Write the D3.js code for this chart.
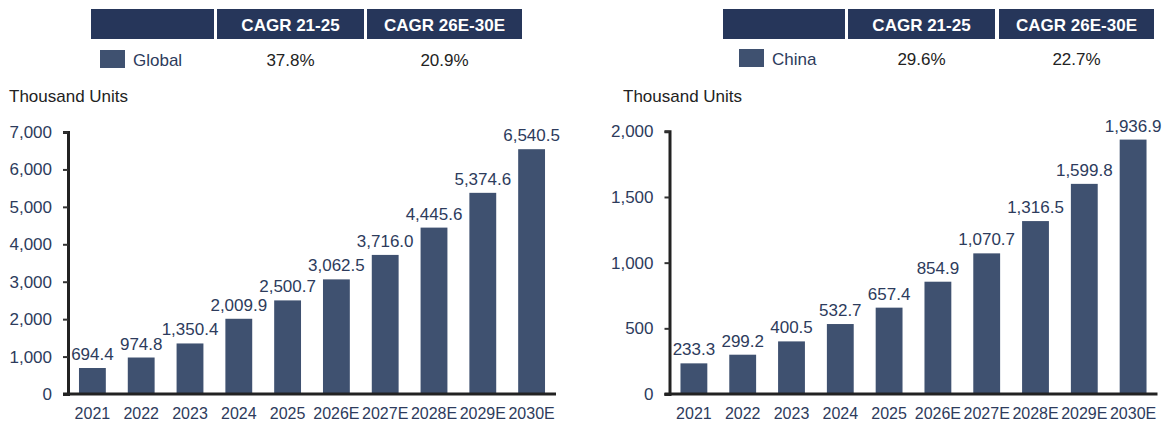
<!DOCTYPE html>
<html>
<head>
  <meta charset="utf-8">
  <title>Global and China units</title>
  <script src="https://cdn.jsdelivr.net/npm/d3@7"></script>
  <style>
    body { margin: 0; background: #fff; }
    text { font-family: "Liberation Sans", Arial, sans-serif; }
  </style>
</head>
<body>
  <script>
    // data
    const years = ["2021", "2022", "2023", "2024", "2025", "2026E", "2027E", "2028E", "2029E", "2030E"];
    const globalUnits = [694.4, 974.8, 1350.4, 2009.9, 2500.7, 3062.5, 3716.0, 4445.6, 5374.6, 6540.5];
    const chinaUnits = [233.3, 299.2, 400.5, 532.7, 657.4, 854.9, 1070.7, 1316.5, 1599.8, 1936.9];
    const globalTicks = [0, 1000, 2000, 3000, 4000, 5000, 6000, 7000];
    const chinaTicks = [0, 500, 1000, 1500, 2000];
    const cagrHeaders = ["CAGR 21-25", "CAGR 26E-30E"];
    const globalCagr = ["37.8%", "20.9%"];
    const chinaCagr = ["29.6%", "22.7%"];
    const unitLabel = "Thousand Units";

    const width = 1165, height = 421;
    const barColor = "#3f5170", headColor = "#26365a", navy = "#2d3b5c";

    const svg = d3.select("body").append("svg")
      .attr("width", width)
      .attr("height", height);

    const fmt = d3.format(",.1f");

    function panel(opt) {
      const g = svg.append("g");

      // CAGR table header
      g.selectAll("rect.head")
        .data(opt.boxes)
        .enter().append("rect")
        .attr("class", "head")
        .attr("x", d => d[0])
        .attr("y", 9)
        .attr("width", d => d[1] - d[0])
        .attr("height", 30)
        .attr("fill", headColor);

      g.selectAll("text.head")
        .data(cagrHeaders)
        .enter().append("text")
        .attr("class", "head")
        .attr("x", (d, i) => (opt.boxes[i + 1][0] + opt.boxes[i + 1][1]) / 2)
        .attr("y", 31)
        .attr("text-anchor", "middle")
        .attr("fill", "#fff")
        .attr("font-weight", "bold")
        .attr("font-size", 17)
        .text(d => d);

      // legend row
      g.append("rect")
        .attr("x", opt.swatchX)
        .attr("y", opt.rowY - 16)
        .attr("width", 25)
        .attr("height", 18)
        .attr("fill", barColor);
      g.append("text")
        .attr("x", opt.swatchX + 33)
        .attr("y", opt.rowY)
        .attr("fill", navy)
        .attr("font-size", 17)
        .text(opt.name);
      g.selectAll("text.cagr")
        .data(opt.cagr)
        .enter().append("text")
        .attr("class", "cagr")
        .attr("x", (d, i) => (opt.boxes[i + 1][0] + opt.boxes[i + 1][1]) / 2)
        .attr("y", opt.rowY)
        .attr("text-anchor", "middle")
        .attr("fill", "#222")
        .attr("font-size", 17)
        .text(d => d);

      g.append("text")
        .attr("x", opt.titleX)
        .attr("y", 102)
        .attr("fill", "#222")
        .attr("font-size", 17)
        .text(unitLabel);

      const x = d3.scaleBand()
        .domain(years)
        .range([opt.x0, opt.x0 + 488])
        .paddingInner(0.45)
        .paddingOuter(0.225);

      const y = d3.scaleLinear()
        .domain([0, opt.max])
        .range([394, opt.top]);

      g.selectAll("rect.bar")
        .data(opt.values)
        .enter().append("rect")
        .attr("class", "bar")
        .attr("x", (d, i) => x(years[i]))
        .attr("y", d => y(d))
        .attr("width", x.bandwidth())
        .attr("height", d => y(0) - y(d))
        .attr("fill", barColor);

      g.selectAll("text.val")
        .data(opt.values)
        .enter().append("text")
        .attr("class", "val")
        .attr("x", (d, i) => x(years[i]) + x.bandwidth() / 2)
        .attr("y", d => y(d) - 8)
        .attr("text-anchor", "middle")
        .attr("fill", navy)
        .attr("font-size", 17)
        .text(d => fmt(d));

      const yAxis = g.append("g")
        .attr("transform", "translate(" + opt.x0 + ",0)")
        .call(d3.axisLeft(y).tickValues(opt.ticks).tickSize(5).tickPadding(11)
          .tickFormat(d3.format(",")));
      yAxis.select(".domain").attr("stroke", "#222").attr("stroke-width", 3);
      yAxis.selectAll(".tick line").attr("stroke", "#333").attr("stroke-width", 2);
      yAxis.selectAll(".tick text")
        .attr("font-size", 17)
        .attr("fill", navy)
        .attr("font-family", "Liberation Sans, Arial, sans-serif");

      const xAxis = g.append("g")
        .attr("transform", "translate(0,394)")
        .call(d3.axisBottom(x).tickSize(0).tickPadding(14));
      xAxis.select(".domain")
        .attr("d", "M" + (opt.x0 - 5) + ",0H" + (opt.x0 + 488))
        .attr("stroke", "#222").attr("stroke-width", 3);
      xAxis.selectAll(".tick text")
        .attr("font-size", 16)
        .attr("fill", navy)
        .attr("font-family", "Liberation Sans, Arial, sans-serif");
    }

    panel({
      name: "Global", values: globalUnits, ticks: globalTicks, max: 7000, top: 132,
      cagr: globalCagr, x0: 68, titleX: 9, swatchX: 100, rowY: 66,
      boxes: [[91, 214], [217, 364], [367, 522]]
    });

    panel({
      name: "China", values: chinaUnits, ticks: chinaTicks, max: 2000, top: 131.3,
      cagr: chinaCagr, x0: 669.5, titleX: 623, swatchX: 739, rowY: 65,
      boxes: [[723, 845], [848, 995], [999, 1154]]
    });
  </script>
</body>
</html>
